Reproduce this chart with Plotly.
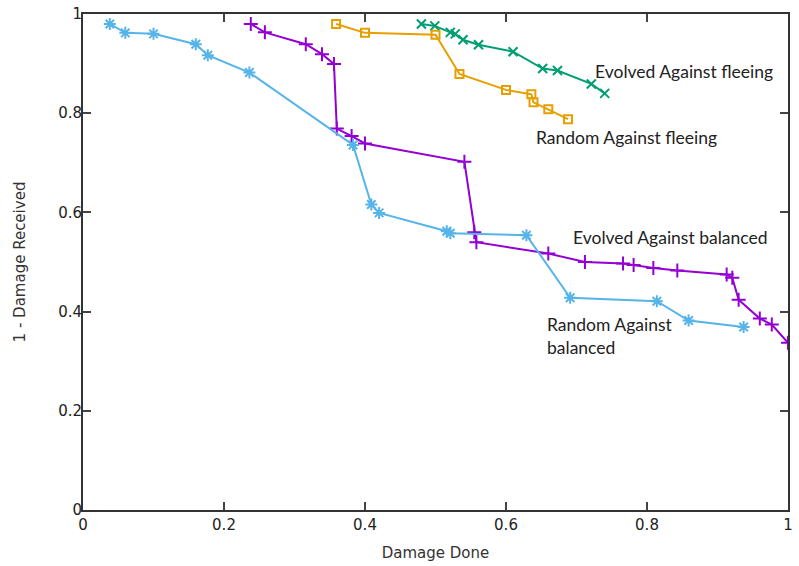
import plotly.graph_objects as go

# Evolved strategies vs. the balanced opponent
evolved_bal_x = [0.238, 0.258, 0.316, 0.339, 0.356, 0.360, 0.381, 0.400, 0.541, 0.555,
                 0.558, 0.660, 0.712, 0.766, 0.781, 0.809, 0.843, 0.913, 0.921, 0.930,
                 0.960, 0.977, 1.000]
evolved_bal_y = [0.980, 0.963, 0.939, 0.919, 0.899, 0.769, 0.754, 0.739, 0.702, 0.560,
                 0.540, 0.517, 0.500, 0.497, 0.494, 0.488, 0.483, 0.475, 0.468, 0.424,
                 0.386, 0.374, 0.337]

# Evolved strategies vs. the fleeing opponent
evolved_flee_x = [0.480, 0.499, 0.521, 0.528, 0.539, 0.561, 0.610, 0.652, 0.673, 0.721, 0.740]
evolved_flee_y = [0.980, 0.976, 0.963, 0.960, 0.948, 0.938, 0.924, 0.890, 0.886, 0.859, 0.840]

# Random strategies vs. the balanced opponent
random_bal_x = [0.038, 0.060, 0.100, 0.160, 0.177, 0.236, 0.383, 0.409, 0.420, 0.516,
                0.521, 0.629, 0.691, 0.814, 0.859, 0.937]
random_bal_y = [0.980, 0.962, 0.960, 0.939, 0.917, 0.882, 0.736, 0.616, 0.599, 0.562,
                0.558, 0.554, 0.428, 0.421, 0.382, 0.369]

# Random strategies vs. the fleeing opponent
random_flee_x = [0.359, 0.400, 0.500, 0.534, 0.600, 0.636, 0.639, 0.660, 0.688]
random_flee_y = [0.980, 0.962, 0.958, 0.879, 0.847, 0.838, 0.822, 0.808, 0.788]

tick_vals = [0, 0.2, 0.4, 0.6, 0.8, 1]
tick_text = ["0", "0.2", "0.4", "0.6", "0.8", "1"]

series = [
    ("Evolved Against balanced", evolved_bal_x, evolved_bal_y, "#9400d3", "cross-thin-open", 10),
    ("Evolved Against fleeing", evolved_flee_x, evolved_flee_y, "#009e73", "x-thin-open", 9),
    ("Random Against balanced", random_bal_x, random_bal_y, "#56b4e9", "asterisk-open", 10),
    ("Random Against fleeing", random_flee_x, random_flee_y, "#e69f00", "square-open", 8),
]

fig = go.Figure()
for name, xs, ys, color, symbol, size in series:
    fig.add_trace(go.Scatter(
        x=xs, y=ys, name=name, mode="lines+markers",
        line=dict(color=color, width=2),
        marker=dict(symbol=symbol, size=size, color=color,
                    line=dict(color=color, width=2)),
    ))

# In-plot series labels
label_font = dict(family="Lato, Open Sans, sans-serif", size=17.5, color="#222222")
labels = [
    (0.723, 0.885, "Evolved Against fleeing"),
    (0.640, 0.752, "Random Against fleeing"),
    (0.692, 0.550, "Evolved Against balanced"),
    (0.655, 0.351, "Random Against<br>balanced"),
]
for lx, ly, txt in labels:
    fig.add_annotation(x=lx, y=ly, text=txt, showarrow=False, xanchor="left",
                       yanchor="middle", align="left", font=label_font)

axis_common = dict(
    range=[0, 1], tickvals=tick_vals, ticktext=tick_text,
    showgrid=False, zeroline=False, automargin=False,
    showline=True, linecolor="#333333", linewidth=2, mirror="allticks",
    ticks="inside", ticklen=8, tickwidth=1.5, tickcolor="#444444",
    tickfont=dict(family="DejaVu Sans", size=15, color="#222222"),
)

fig.update_layout(
    width=799, height=566,
    margin=dict(l=83, r=11, t=14, b=56),
    plot_bgcolor="white", paper_bgcolor="white",
    showlegend=False,
    xaxis=dict(**axis_common,
               title=dict(text="Damage Done", standoff=14,
                          font=dict(family="DejaVu Sans", size=15, color="#333333"))),
    yaxis=dict(**axis_common, ticklabelstandoff=-4,
               title=dict(text="1 - Damage Received", standoff=29,
                          font=dict(family="DejaVu Sans", size=15, color="#333333"))),
)

fig.write_html("out.html")
